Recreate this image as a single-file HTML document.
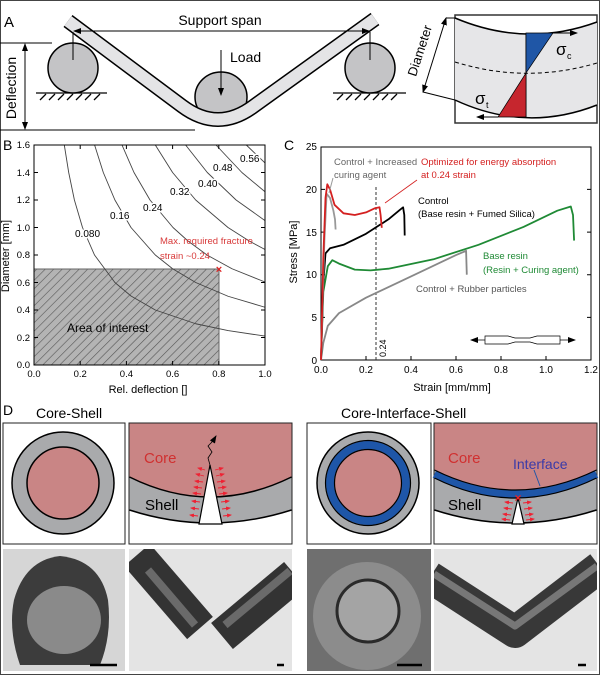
<!DOCTYPE html>
<html><head><meta charset="utf-8"><style>
html,body{margin:0;padding:0;background:#fff}
svg{display:block}
text{font-family:"Liberation Sans",sans-serif}
</style></head><body>
<svg width="600" height="675" viewBox="0 0 600 675" xmlns="http://www.w3.org/2000/svg">
<defs>
<pattern id="hatch" width="6" height="6" patternUnits="userSpaceOnUse" patternTransform="rotate(45)">
<rect width="6" height="6" fill="#b4b4b4"/><line x1="0" y1="0" x2="0" y2="6" stroke="#555" stroke-width="1.2"/>
</pattern>
<marker id="ah" markerWidth="8" markerHeight="8" refX="7" refY="4" orient="auto" markerUnits="userSpaceOnUse"><path d="M0,1 L8,4 L0,7 Z" fill="#000"/></marker>
<marker id="ahs" markerWidth="8" markerHeight="8" refX="1" refY="4" orient="auto" markerUnits="userSpaceOnUse"><path d="M8,1 L0,4 L8,7 Z" fill="#000"/></marker>
<marker id="ra" markerWidth="5" markerHeight="5" refX="4" refY="2.5" orient="auto" markerUnits="userSpaceOnUse"><path d="M0,0.5 L5,2.5 L0,4.5 Z" fill="#e23"/></marker>
<clipPath id="c1"><rect x="3" y="549" width="122" height="122"/></clipPath>
<clipPath id="c2"><rect x="129" y="549" width="163" height="122"/></clipPath>
<clipPath id="c3"><rect x="307" y="549" width="124" height="122"/></clipPath>
<clipPath id="c4"><rect x="434" y="549" width="163" height="122"/></clipPath>
</defs>
<rect x="0.5" y="0.5" width="599" height="674" fill="#fff" stroke="#444"/>

<!-- Panel A -->
<text x="4" y="27" font-size="15">A</text>
<line x1="0" y1="43" x2="52" y2="43" stroke="#000"/>
<line x1="0" y1="130" x2="195" y2="130" stroke="#000"/>
<line x1="25" y1="44" x2="25" y2="129" stroke="#000" marker-start="url(#ahs)" marker-end="url(#ah)"/>
<text transform="translate(16,88) rotate(-90)" font-size="14" text-anchor="middle">Deflection</text>
<g stroke="#000" stroke-width="1.3">
<line x1="36" y1="93" x2="107" y2="93"/>
<line x1="333" y1="93" x2="406" y2="93"/>
<path d="M40,100 L46,94 M49,100 L55,94 M58,100 L64,94 M67,100 L73,94 M76,100 L82,94 M85,100 L91,94 M94,100 L100,94 M337,100 L343,94 M346,100 L352,94 M355,100 L361,94 M364,100 L370,94 M373,100 L379,94 M382,100 L388,94 M391,100 L397,94"/>
</g>
<circle cx="73" cy="68" r="25" fill="#c4c4c6" stroke="#000" stroke-width="1.5"/>
<circle cx="370" cy="68" r="25" fill="#c4c4c6" stroke="#000" stroke-width="1.5"/>
<ellipse cx="221" cy="97" rx="26" ry="25" fill="#c4c4c6" stroke="#000" stroke-width="1.5"/>
<path d="M68,21 L182,106 Q218,133 254,106 L375,19" fill="none" stroke="#000" stroke-width="15" stroke-linejoin="round"/>
<path d="M68,21 L182,106 Q218,133 254,106 L375,19" fill="none" stroke="#e4e4e6" stroke-width="12" stroke-linejoin="round"/>
<line x1="73" y1="32" x2="73" y2="60" stroke="#000"/>
<line x1="370" y1="32" x2="370" y2="60" stroke="#000"/>
<line x1="74" y1="31" x2="369" y2="31" stroke="#000" marker-start="url(#ahs)" marker-end="url(#ah)"/>
<text x="220" y="25" font-size="14" text-anchor="middle">Support span</text>
<text x="230" y="62" font-size="14">Load</text>
<line x1="221" y1="50" x2="221" y2="95" stroke="#000" marker-end="url(#ah)"/>
<rect x="455" y="15" width="142" height="108" fill="#fff" stroke="#333" stroke-width="1.5"/>
<path d="M455,18 Q526,48 597,22 L597,105 Q526,131 455,100 Z" fill="#e6e6e8" stroke="none"/>
<path d="M455,18 Q526,48 597,22" fill="none" stroke="#000" stroke-width="1.5"/>
<path d="M455,100 Q526,133 597,105" fill="none" stroke="#000" stroke-width="1.5"/>
<path d="M455,62 Q526,84 597,63" fill="none" stroke="#000" stroke-dasharray="4,3"/>
<line x1="526" y1="33" x2="526" y2="117" stroke="#000"/>
<path d="M526,33 L553,33 L526,73 Z" fill="#1f56a6" stroke="#000" stroke-width="0.7"/>
<path d="M526,73 L526,117 L498,117 Z" fill="#c6262e" stroke="#000" stroke-width="0.7"/>
<line x1="553" y1="33" x2="577" y2="33" stroke="#000" marker-end="url(#ah)"/>
<line x1="498" y1="117" x2="477" y2="117" stroke="#000" marker-end="url(#ah)"/>
<text x="556" y="55" font-size="17">σ</text><text x="567" y="59" font-size="9">c</text>
<text x="475" y="104" font-size="17">σ</text><text x="486" y="108" font-size="9">t</text>
<line x1="446" y1="18" x2="423" y2="92" stroke="#000" marker-start="url(#ahs)" marker-end="url(#ah)"/>
<line x1="446" y1="18" x2="455" y2="18" stroke="#000"/>
<line x1="423" y1="92" x2="455" y2="100" stroke="#000"/>
<text transform="translate(424,52) rotate(-72)" font-size="13" text-anchor="middle">Diameter</text>

<!-- Panel B -->
<text x="3" y="150" font-size="14">B</text>
<rect x="34" y="269" width="185" height="96" fill="url(#hatch)"/>
<line x1="219" y1="269" x2="219" y2="365" stroke="#666"/><line x1="34" y1="269" x2="219" y2="269" stroke="#666"/>
<g fill="none" stroke="#444" stroke-width="0.9" stroke-linejoin="round">
<polyline points="64.3,145 68.7,172.5 74.4,200 82.5,227.5 94.5,255 114.9,282.5 131,296 155.3,310 195.7,323.75 228,330.6 265,336.1"/>
<polyline points="94.6,145 103.3,172.5 114.9,200 131,227.5 155.3,255 172.6,268.75 195.7,282.5 228,296.25 265,307.25"/>
<polyline points="122,145 134,172.5 150,200 173,227.5 188,241 207,255 232,268.75 265,282"/>
<polyline points="155.3,145 172.6,172.5 195.7,200 228,227.5 249.6,241.25 265,249.5"/>
<polyline points="185.6,145 207.3,172.5 236.1,200 265,220.6"/>
<polyline points="216,145 241.9,172.5 265,191.75"/>
<polyline points="246.3,145 265,162.9"/>
</g>
<g font-size="10" stroke="#fff" stroke-width="3" paint-order="stroke" fill="#000">
<text x="75" y="237">0.080</text>
<text x="110" y="219">0.16</text>
<text x="143" y="211">0.24</text>
<text x="170" y="195">0.32</text>
<text x="198" y="187">0.40</text>
<text x="213" y="171">0.48</text>
<text x="240" y="162">0.56</text>
</g>
<text x="160" y="244" font-size="9.5" fill="#d83a3a">Max. required fracture</text>
<text x="160" y="259" font-size="9.5" fill="#d83a3a">strain ~0.24</text>
<text x="219" y="273" font-size="11" fill="#d22" text-anchor="middle" font-weight="bold">×</text>
<text x="67" y="332" font-size="12">Area of interest</text>
<rect x="34" y="145" width="231" height="220" fill="none" stroke="#000"/>
<g stroke="#000">
<path d="M80.2,365v-4M126.4,365v-4M172.6,365v-4M218.8,365v-4M80.2,145v4M126.4,145v4M172.6,145v4M218.8,145v4"/>
<path d="M34,337.5h4M34,310h4M34,282.5h4M34,255h4M34,227.5h4M34,200h4M34,172.5h4M265,337.5h-4M265,310h-4M265,282.5h-4M265,255h-4M265,227.5h-4M265,200h-4M265,172.5h-4"/>
</g>
<g font-size="9.5" text-anchor="middle">
<text x="34" y="377">0.0</text><text x="80.2" y="377">0.2</text><text x="126.4" y="377">0.4</text><text x="172.6" y="377">0.6</text><text x="218.8" y="377">0.8</text><text x="265" y="377">1.0</text>
</g>
<g font-size="9.5" text-anchor="end">
<text x="30" y="368">0.0</text><text x="30" y="341">0.2</text><text x="30" y="313">0.4</text><text x="30" y="286">0.6</text><text x="30" y="258">0.8</text><text x="30" y="231">1.0</text><text x="30" y="203">1.2</text><text x="30" y="176">1.4</text><text x="30" y="148">1.6</text>
</g>
<text x="148" y="393" font-size="11" text-anchor="middle">Rel. deflection []</text>
<text transform="translate(9,256) rotate(-90)" font-size="11" text-anchor="middle">Diameter [mm]</text>

<!-- Panel C -->
<text x="284" y="150" font-size="14">C</text>
<rect x="321" y="147" width="270" height="213" fill="none" stroke="#000"/>
<g stroke="#000">
<path d="M366,360v-4M411,360v-4M456,360v-4M501,360v-4M546,360v-4"/>
<path d="M321,317.4h4M321,274.7h4M321,232.1h4M321,189.4h4M591,317.4h-4M591,274.7h-4M591,232.1h-4M591,189.4h-4"/>
</g>
<g font-size="10" text-anchor="middle">
<text x="321" y="373">0.0</text><text x="366" y="373">0.2</text><text x="411" y="373">0.4</text><text x="456" y="373">0.6</text><text x="501" y="373">0.8</text><text x="546" y="373">1.0</text><text x="591" y="373">1.2</text>
</g>
<g font-size="10" text-anchor="end">
<text x="317" y="364">0</text><text x="317" y="321">5</text><text x="317" y="278">10</text><text x="317" y="236">15</text><text x="317" y="193">20</text><text x="317" y="150">25</text>
</g>
<text x="452" y="391" font-size="11" text-anchor="middle">Strain [mm/mm]</text>
<text transform="translate(297,252) rotate(-90)" font-size="11" text-anchor="middle">Stress [MPa]</text>
<line x1="376" y1="360" x2="376" y2="185" stroke="#333" stroke-dasharray="3,2"/>
<text transform="translate(386,357) rotate(-90)" font-size="9">0.24</text>
<g fill="none" stroke-width="1.8" stroke-linejoin="round">
<polyline stroke="#888" points="321,360 323.3,342.9 327.8,325.9 339,313.1 366,297.7 411,276.4 456,255.1 466.1,250.8 466.8,274.7"/>
<polyline stroke="#1f8a35" points="321,360 323.3,291.8 327.8,266.2 332.3,260.2 339,263.6 354.8,269.6 370.5,270.4 388.5,268.7 433.5,259.3 478.5,244.8 523.5,226.9 557.3,210.7 570.8,206.5 573,215 574.1,240.6"/>
<polyline stroke="#000" points="321,360 323.3,283.2 325.5,253.4 330,248.3 343.5,244.8 366,233.8 388.5,219.3 399.8,209.9 403.1,207.3 404.3,215 404.7,235.5"/>
<polyline stroke="#999" points="321,360 324.4,240.6 326.6,193.7 330,197.9 333.4,210.7 335,219.3 335.6,229.5"/>
<polyline stroke="#d42020" points="321,360 323.3,257.6 325.5,197.9 327.3,184.3 330,189.4 334.5,204.8 343.5,213.3 354.8,215 366,212.4 375,208.2 379.5,207.3 380.6,215 381.8,227.8"/>
</g>
<line x1="333" y1="178" x2="329" y2="193" stroke="#999"/>
<line x1="417" y1="180" x2="385" y2="203" stroke="#d42020" stroke-width="0.8"/>
<g font-size="9.5">
<text x="334" y="165" fill="#666">Control + Increased</text>
<text x="334" y="178" fill="#666">curing agent</text>
<text x="421" y="165" fill="#d42020">Optimized for energy absorption</text>
<text x="421" y="178" fill="#d42020">at 0.24 strain</text>
<text x="418" y="204">Control</text>
<text x="418" y="217">(Base resin + Fumed Silica)</text>
<text x="483" y="259" fill="#1f8a35">Base resin</text>
<text x="483" y="273" fill="#1f8a35">(Resin + Curing agent)</text>
<text x="416" y="292" fill="#555">Control + Rubber particles</text>
</g>
<g stroke="#000" stroke-width="0.7" fill="none">
<line x1="471" y1="340" x2="575" y2="340" marker-start="url(#ahs)" marker-end="url(#ah)"/>
<path d="M485,336 L508,336 L515,338 L530,338 L537,336 L560,336 L560,344 L537,344 L530,342 L515,342 L508,344 L485,344 Z" fill="#fff"/>
</g>

<!-- Panel D -->
<text x="3" y="415" font-size="14">D</text>
<text x="36" y="418" font-size="14">Core-Shell</text>
<text x="341" y="418" font-size="14">Core-Interface-Shell</text>
<g stroke="#222" stroke-width="1" fill="#fff">
<rect x="3" y="423" width="122" height="121"/>
<rect x="129" y="423" width="163" height="121"/>
<rect x="307" y="423" width="124" height="121"/>
<rect x="434" y="423" width="163" height="121"/>
</g>
<circle cx="63" cy="483" r="51" fill="#a9aaac" stroke="#000" stroke-width="1.5"/>
<circle cx="63" cy="483" r="36" fill="#c98585" stroke="#000" stroke-width="1.5"/>
<circle cx="368" cy="483" r="51" fill="#a9aaac" stroke="#000" stroke-width="1.5"/>
<circle cx="368" cy="483" r="38" fill="none" stroke="#1e56a8" stroke-width="8"/>
<circle cx="368" cy="483" r="42.5" fill="none" stroke="#000" stroke-width="1.2"/>
<circle cx="368" cy="483" r="33.5" fill="#c98585" stroke="#000" stroke-width="1.2"/>
<path d="M129.5,423.5 L291.5,423.5 L291.5,477 Q210,517 129.5,477 Z" fill="#c98585"/>
<path d="M129.5,477 Q210,517 291.5,477 L291.5,510 Q210,536 129.5,510 Z" fill="#a9aaac"/>
<path d="M129.5,477 Q210,517 291.5,477" fill="none" stroke="#000" stroke-width="1.5"/>
<path d="M129.5,510 Q210,536 291.5,510" fill="none" stroke="#000" stroke-width="1.5"/>
<path d="M199,524 L210,465 L222,524 Z" fill="#fff" stroke="#000" stroke-width="1.2"/>
<polyline points="210,465 208,458 212,452 208,446 213,441 216,436" fill="none" stroke="#000" stroke-width="0.8" marker-end="url(#ah)"/>
<g stroke="#e23" stroke-width="0.9">
<line x1="205" y1="470" x2="198" y2="468" marker-end="url(#ra)"/><line x1="204" y1="476" x2="196" y2="474" marker-end="url(#ra)"/><line x1="203" y1="482" x2="195" y2="481" marker-end="url(#ra)"/><line x1="202" y1="488" x2="194" y2="487" marker-end="url(#ra)"/><line x1="201" y1="494" x2="193" y2="493" marker-end="url(#ra)"/><line x1="200" y1="502" x2="192" y2="501" marker-end="url(#ra)"/><line x1="199" y1="509" x2="191" y2="508" marker-end="url(#ra)"/><line x1="198" y1="516" x2="190" y2="515" marker-end="url(#ra)"/>
<line x1="215" y1="470" x2="223" y2="468" marker-end="url(#ra)"/><line x1="216" y1="476" x2="224" y2="474" marker-end="url(#ra)"/><line x1="217" y1="482" x2="225" y2="481" marker-end="url(#ra)"/><line x1="218" y1="488" x2="226" y2="487" marker-end="url(#ra)"/><line x1="219" y1="494" x2="227" y2="493" marker-end="url(#ra)"/><line x1="221" y1="502" x2="229" y2="501" marker-end="url(#ra)"/><line x1="222" y1="509" x2="230" y2="508" marker-end="url(#ra)"/><line x1="223" y1="516" x2="231" y2="515" marker-end="url(#ra)"/>
</g>
<text x="144" y="463" font-size="15" fill="#d03030">Core</text>
<text x="145" y="510" font-size="15">Shell</text>
<path d="M434.5,423.5 L596.5,423.5 L596.5,470 Q515,510 434.5,470 Z" fill="#c98585"/>
<path d="M434.5,470 Q515,510 596.5,470 L596.5,510 Q515,536 434.5,510 Z" fill="#a9aaac"/>
<path d="M434.5,474 Q515,514 596.5,474" fill="none" stroke="#1e56a8" stroke-width="8"/>
<path d="M434.5,470 Q515,510 596.5,470" fill="none" stroke="#000" stroke-width="1.2"/>
<path d="M434.5,478 Q515,518 596.5,478" fill="none" stroke="#000" stroke-width="1.2"/>
<path d="M434.5,510 Q515,536 596.5,510" fill="none" stroke="#000" stroke-width="1.5"/>
<path d="M512,524 L518,498 L524,524 Z" fill="#fff" stroke="#000" stroke-width="1.2"/>
<text x="518" y="502" font-size="12" fill="#e22" text-anchor="middle" font-weight="bold">×</text>
<g stroke="#e23" stroke-width="0.9">
<line x1="513" y1="503" x2="505" y2="502" marker-end="url(#ra)"/><line x1="512" y1="509" x2="504" y2="508" marker-end="url(#ra)"/><line x1="511" y1="515" x2="503" y2="514" marker-end="url(#ra)"/><line x1="510" y1="520" x2="502" y2="519" marker-end="url(#ra)"/>
<line x1="523" y1="503" x2="531" y2="502" marker-end="url(#ra)"/><line x1="524" y1="509" x2="532" y2="508" marker-end="url(#ra)"/><line x1="525" y1="515" x2="533" y2="514" marker-end="url(#ra)"/><line x1="526" y1="520" x2="534" y2="519" marker-end="url(#ra)"/>
</g>
<line x1="534" y1="470" x2="540" y2="486" stroke="#1e56a8"/>
<text x="448" y="463" font-size="15" fill="#d03030">Core</text>
<text x="513" y="469" font-size="14" fill="#3a3aa8">Interface</text>
<text x="448" y="510" font-size="15">Shell</text>

<!-- photos -->
<g clip-path="url(#c1)">
<rect x="3" y="549" width="122" height="122" fill="#d6d6d6"/>
<path d="M20,665 Q8,630 14,600 Q25,560 60,556 Q100,560 108,600 Q112,635 100,665 Z" fill="#3c3c3c"/>
<ellipse cx="64" cy="620" rx="37" ry="34" fill="#8a8a8a"/>
<line x1="90" y1="665" x2="117" y2="665" stroke="#000" stroke-width="2.5"/>
</g>
<g clip-path="url(#c2)">
<rect x="129" y="549" width="163" height="122" fill="#e4e4e4"/>
<line x1="137" y1="555" x2="200" y2="628" stroke="#333" stroke-width="34"/>
<line x1="148" y1="570" x2="195" y2="625" stroke="#6a6a6a" stroke-width="8"/>
<line x1="222" y1="636" x2="295" y2="575" stroke="#333" stroke-width="34"/>
<line x1="225" y1="625" x2="290" y2="571" stroke="#6a6a6a" stroke-width="8"/>
<line x1="277" y1="665" x2="284" y2="665" stroke="#000" stroke-width="2.5"/>
</g>
<g clip-path="url(#c3)">
<rect x="307" y="549" width="124" height="122" fill="#6f6f6f"/>
<circle cx="367" cy="616" r="54" fill="#8c8c8c"/>
<circle cx="368" cy="611" r="31" fill="#a4a4a4" stroke="#2a2a2a" stroke-width="3"/>
<line x1="397" y1="665" x2="422" y2="665" stroke="#000" stroke-width="2.5"/>
</g>
<g clip-path="url(#c4)">
<rect x="434" y="549" width="163" height="122" fill="#e4e4e4"/>
<polyline points="430,577 515,632 600,567" fill="none" stroke="#383838" stroke-width="32" stroke-linejoin="round"/>
<polyline points="434,574 515,626 597,566" fill="none" stroke="#777" stroke-width="7" stroke-linejoin="round"/>
<line x1="578" y1="665" x2="586" y2="665" stroke="#000" stroke-width="2.5"/>
</g>
</svg>
</body></html>
